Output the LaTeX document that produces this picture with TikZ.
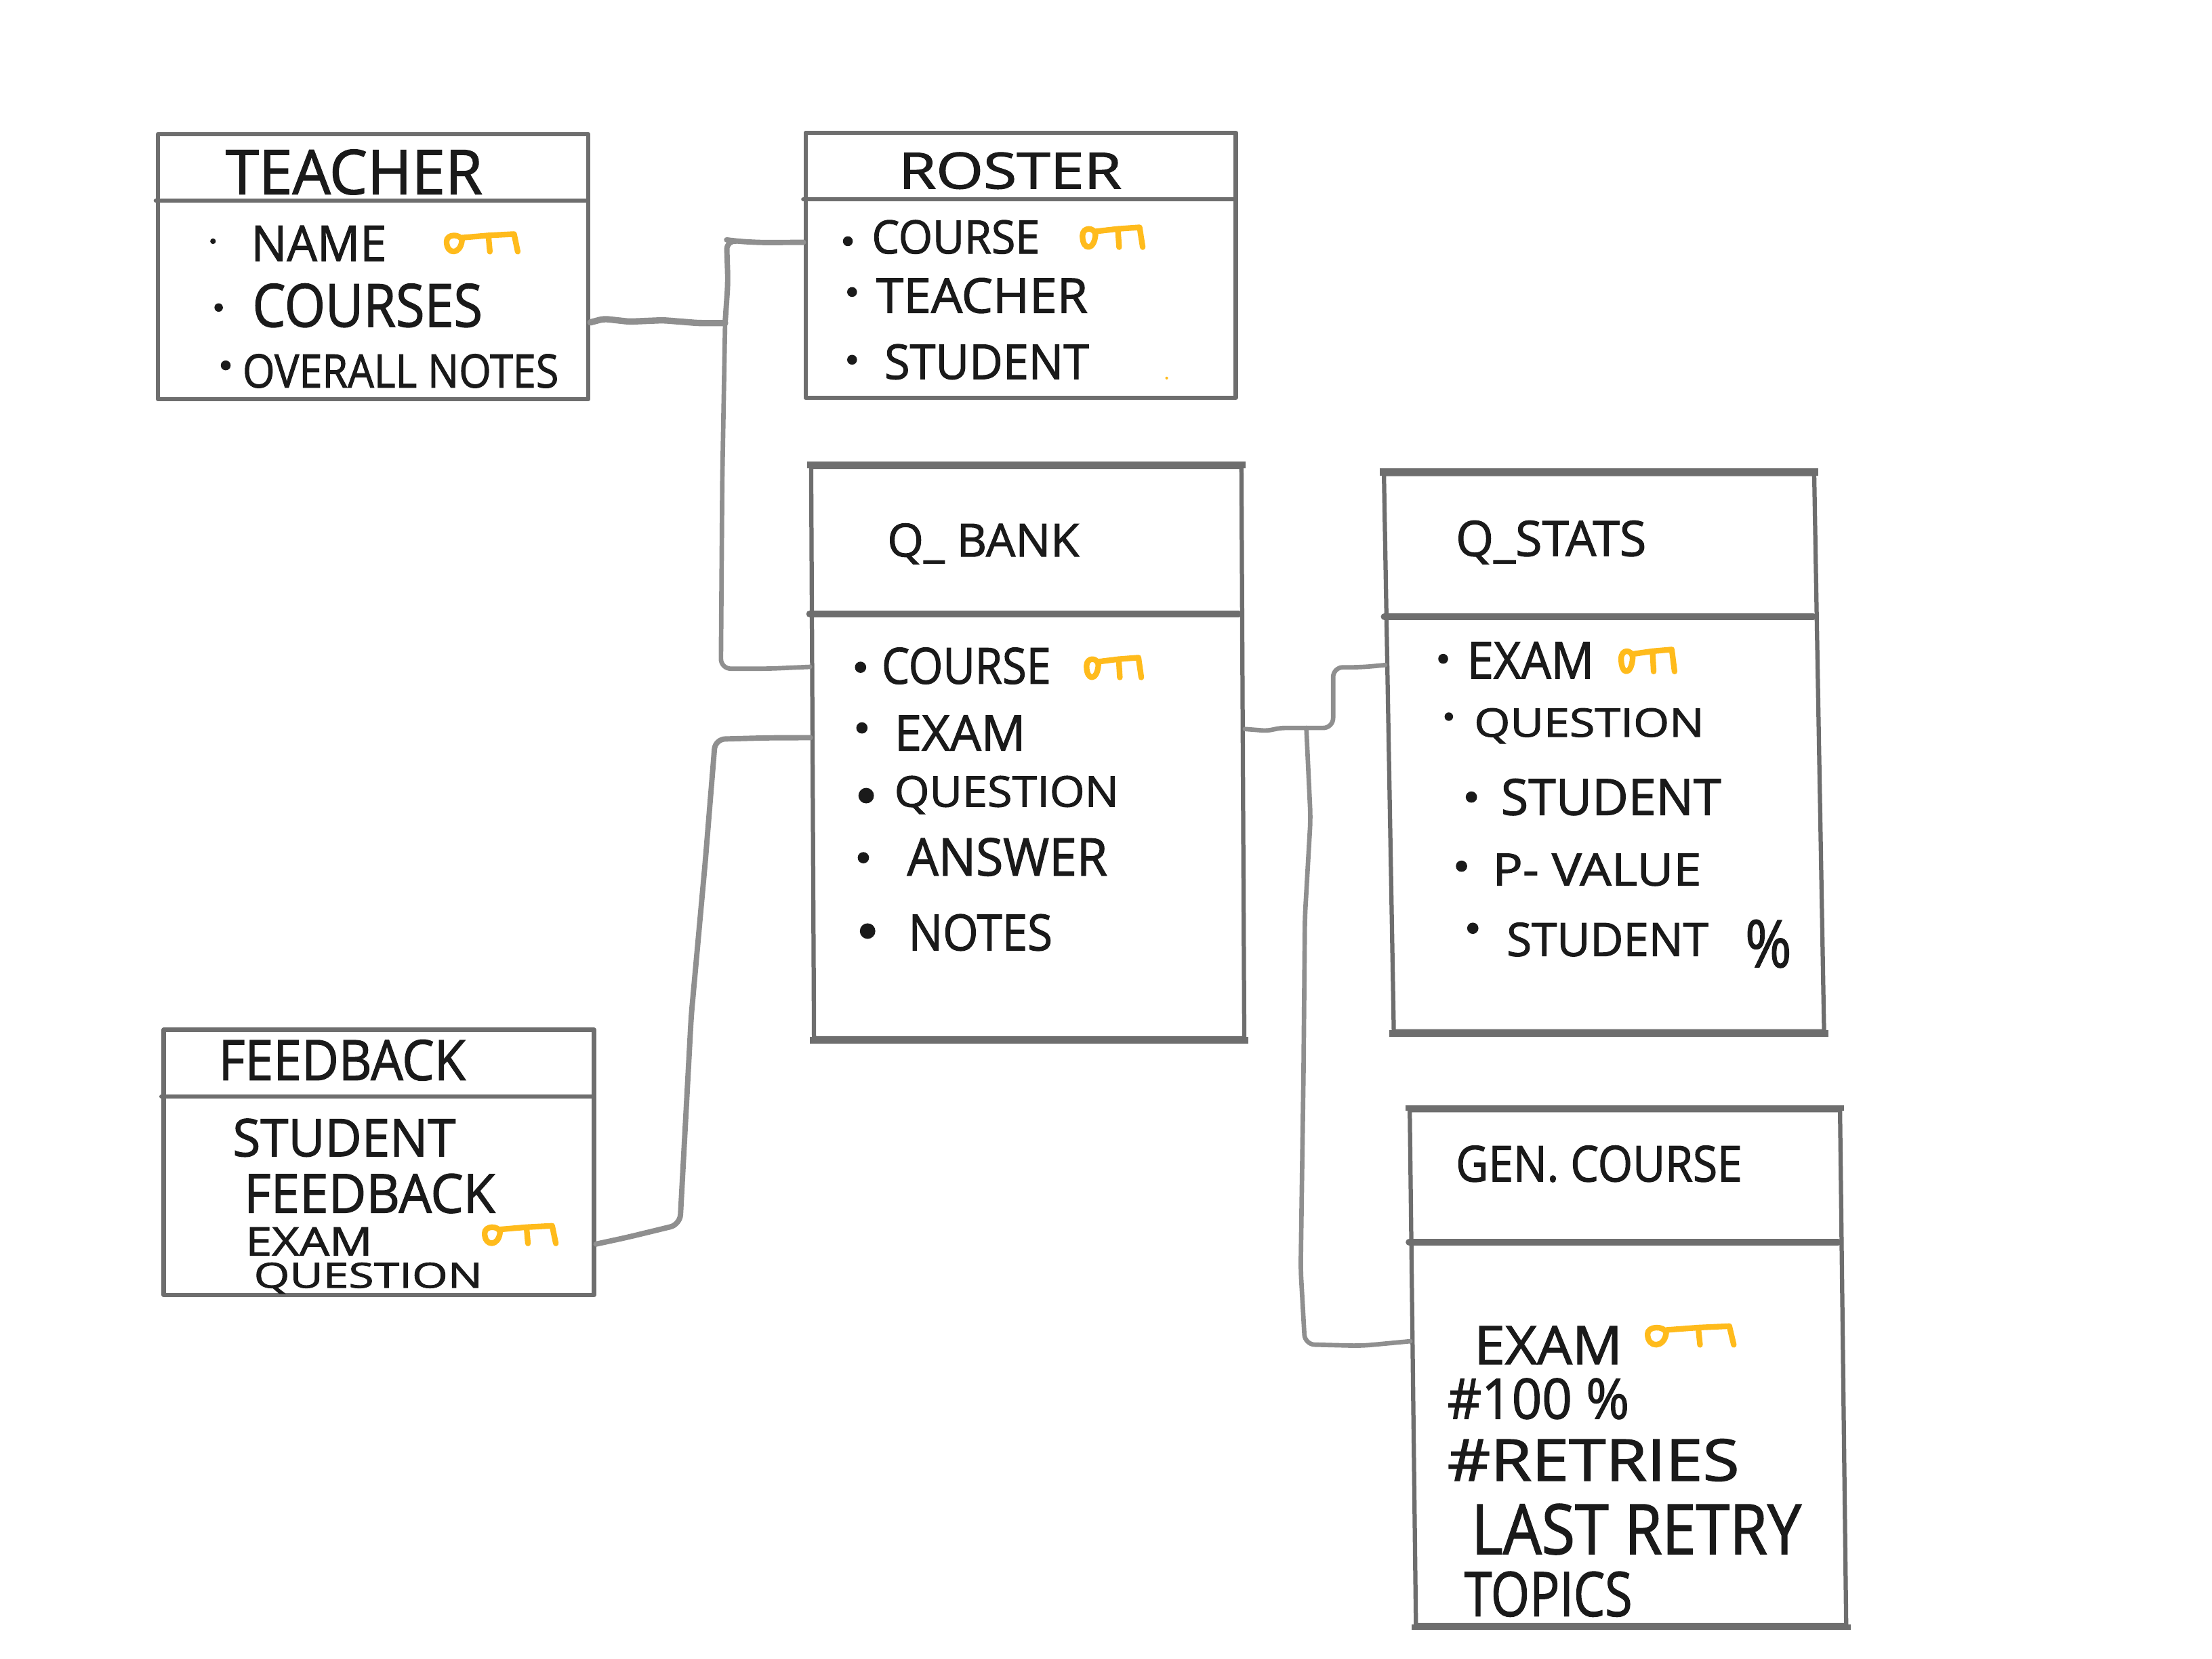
\documentclass[tikz,border=0pt]{standalone}
\usepackage{graphicx}
\usepackage{fontspec}
\setmainfont{Open Sans}[FakeBold=1.6]
\usetikzlibrary{calc}
\newlength\pxu
\setlength\pxu{0.02cm}
\definecolor{boxgray}{HTML}{6E6E6E}
\definecolor{wiregray}{HTML}{8F8F8F}
\definecolor{inkblack}{HTML}{1A1A1A}
\definecolor{keygold}{HTML}{FFBB1C}
\tikzset{
  erbox/.style={draw=boxgray,line width=3\pxu,rectangle,fill=white,inner sep=0pt,line join=round},
  divider/.style={draw=boxgray,line width=3.2\pxu,line cap=round,shorten >=3\pxu},
  heavydivider/.style={draw=boxgray,line width=5\pxu,line cap=round,shorten >=4\pxu},
  heavyline/.style={draw=boxgray,line width=5\pxu,line cap=butt,shorten <=-1.5\pxu,shorten >=-1.5\pxu},
  wire/.style={draw=wiregray,line width=3.8\pxu,line cap=round,line join=round,rounded corners=7\pxu},
  thinwire/.style={wire,line width=3.2\pxu},
  lbl/.style={anchor=south west,inner sep=0pt,outer sep=0pt,text=inkblack,font=\fontsize{20}{24}\selectfont},
  dotmark/.style={fill=inkblack},
  keyicon/.pic={
    \draw[draw=keygold,line width=4\pxu,line cap=round,line join=round]
      (0.03,0.45) .. controls (0.03,0.1) and (0.22,0.1) .. (0.24,0.4)
      .. controls (0.22,1.05) and (0.03,1.05) .. (0.03,0.45)
      (0.24,0.28) -- (0.6,0.18) -- (0.95,0.12) -- (1,0.9)
      (0.6,0.18) -- (0.62,0.9);
  }
}
\newcommand\lab[6]{\node[lbl] (#1) at (#2,#3) {\resizebox*{#4\pxu}{#5\pxu}{#6}};}
\begin{document}
\begin{tikzpicture}[x=0.02cm,y=-0.02cm]
\useasboundingbox (0,0) rectangle (1568,1176);
\fill[white] (0,0) rectangle (1568,1176);

% boxes
\node[erbox,minimum width=305\pxu,minimum height=188\pxu] (teacher) at (264.5,189) {};
\node[erbox,minimum width=305\pxu,minimum height=188\pxu] (roster) at (723.5,188) {};
\node[erbox,minimum width=305\pxu,minimum height=405\pxu,xslant=-0.005] (qbank) at (728.5,533.5) {};
\node[erbox,minimum width=305\pxu,minimum height=395\pxu,xslant=-0.0177] (qstats) at (1137,533.5) {};
\node[erbox,minimum width=305\pxu,minimum height=188\pxu] (feedback) at (268.5,824) {};
\node[erbox,minimum width=305\pxu,minimum height=365\pxu,xslant=-0.012] (gencourse) at (1154,969.5) {};

% dividers
\draw[divider] ($(teacher.north west)!0.255!(teacher.south west)$) -- ($(teacher.north east)!0.255!(teacher.south east)$);
\draw[divider] ($(roster.north west)!0.255!(roster.south west)$) -- ($(roster.north east)!0.255!(roster.south east)$);
\draw[divider] ($(feedback.north west)!0.255!(feedback.south west)$) -- ($(feedback.north east)!0.255!(feedback.south east)$);
\draw[heavydivider] ($(qbank.north west)!0.259!(qbank.south west)$) -- ($(qbank.north east)!0.259!(qbank.south east)$);
\draw[heavydivider] ($(qstats.north west)!0.258!(qstats.south west)$) -- ($(qstats.north east)!0.258!(qstats.south east)$);
\draw[heavydivider] ($(gencourse.north west)!0.258!(gencourse.south west)$) -- ($(gencourse.north east)!0.258!(gencourse.south east)$);
\draw[heavyline] (qbank.north west) -- (qbank.north east);
\draw[heavyline] (qbank.south west) -- (qbank.south east);
\draw[heavyline] (qstats.north west) -- (qstats.north east);
\draw[heavyline] (qstats.south west) -- (qstats.south east);
\draw[heavyline,line width=4\pxu] (gencourse.north west) -- (gencourse.north east);
\draw[heavyline,line width=4\pxu] (gencourse.south west) -- (gencourse.south east);

% connectors
\coordinate (jteacher) at (514,229);
\coordinate (jqbank) at (926,516);
\draw[wire,line width=4.5\pxu,rounded corners=3\pxu] ($(teacher.north east)!0.707!(teacher.south east)$) -- (428,226) -- (446,228) -- (470,227) -- (495,229) -- (jteacher);
\draw[wire] (jteacher) -- (516,200) -- (515,170) -- (522,171) -- (540,172) -- ($(roster.north west)!0.415!(roster.south west)$);
\draw[thinwire] (jteacher) -- (512,340) -- (511,474) -- (545,474) -- ($(qbank.north west)!0.351!(qbank.south west)$);
\draw[wire] ($(feedback.north east)!0.803!(feedback.south east)$) -- (445,877) -- (482,868) -- (490,720) -- (500,610) -- (507,524) -- (545,523) -- ($(qbank.north west)!0.474!(qbank.south west)$);
\draw[thinwire,rounded corners=3\pxu] ($(qbank.north east)!0.459!(qbank.south east)$) -- (898,518) -- (908,516) -- (jqbank);
\draw[thinwire] (jqbank) -- (945,516) -- (945,473) -- (965,473) -- ($(qstats.north west)!0.344!(qstats.south west)$);
\draw[thinwire] (jqbank) -- (929,580) -- (925,650) -- (924,760) -- (922,900) -- (925,953) -- (965,954) -- ($(gencourse.north west)!0.449!(gencourse.south west)$);

% TEACHER
\lab{tTitle}{160}{138}{182}{32}{TEACHER}
\lab{tName}{178}{185}{96}{25}{NAME}
\lab{tCourses}{179}{232}{163}{31}{COURSES}
\lab{tNotes}{172}{275}{224}{24}{OVERALL NOTES}
\fill[dotmark] (151,171) circle (2);
\fill[dotmark] (155,218) circle (3);
\fill[dotmark] (160,259) circle (3.5);
\pic[xscale=52,yscale=16] at (315,164) {keyicon};

% ROSTER
\lab{rTitle}{637}{134}{158}{26}{ROSTER}
\lab{rCourse}{618}{180}{119}{24}{COURSE}
\lab{rTeacher}{621}{222}{150}{25}{TEACHER}
\lab{rStudent}{627}{269}{145}{25}{STUDENT}
\fill[dotmark] (601,171) circle (3.5);
\fill[dotmark] (604,207) circle (3.5);
\fill[dotmark] (604,255) circle (3.5);
\pic[xscale=44,yscale=18] at (766,159) {keyicon};
\fill[keygold] (827,268) circle (1);

% Q_BANK
\lab{qbTitle}{629}{400}{136}{29}{Q\_ BANK}
\lab{qbCourse}{625}{485}{120}{26}{COURSE}
\lab{qbExam}{634}{532}{93}{25}{EXAM}
\lab{qbQuestion}{634}{577}{159}{27}{QUESTION}
\lab{qbAnswer}{643}{621}{142}{27}{ANSWER}
\lab{qbNotes}{644}{674}{102}{26}{NOTES}
\fill[dotmark] (610,473) circle (4);
\fill[dotmark] (611,516) circle (4);
\fill[dotmark] (614,564) circle (5.5);
\fill[dotmark] (612,608) circle (4);
\fill[dotmark] (615,660) circle (5.5);
\pic[xscale=40,yscale=18] at (769,464) {keyicon};

% Q_STATS
\lab{qsTitle}{1032}{400}{135}{31}{Q\_STATS}
\lab{qsExam}{1040}{481}{90}{26}{EXAM}
\lab{qsQuestion}{1045}{527}{163}{25}{QUESTION}
\lab{qsStudent}{1064}{578}{156}{26}{STUDENT}
\lab{qsPvalue}{1058}{628}{148}{23}{P- VALUE}
\lab{qsStudentB}{1068}{678}{143}{24}{STUDENT}
\lab{qsPct}{1237}{686}{33}{34}{\%}
\fill[dotmark] (1023,467) circle (3.5);
\fill[dotmark] (1027,508) circle (3);
\fill[dotmark] (1043,565) circle (4);
\fill[dotmark] (1036,614) circle (4);
\fill[dotmark] (1044,658) circle (4);
\pic[xscale=39,yscale=20] at (1148,458) {keyicon};

% FEEDBACK
\lab{fTitle}{155}{766}{175}{29}{FEEDBACK}
\lab{fStudent}{165}{820}{158}{27}{STUDENT}
\lab{fFeedback}{173}{860}{178}{28}{FEEDBACK}
\lab{fExam}{174}{890}{90}{20}{EXAM}
\lab{fQuestion}{180}{917}{162}{22}{QUESTION}
\pic[xscale=52,yscale=16] at (342,867) {keyicon};

% GEN. COURSE
\lab{gTitle}{1032}{838}{203}{26}{GEN. COURSE}
\lab{gExam}{1045}{967}{105}{27}{EXAM}
\lab{gHundred}{1026}{1006}{129}{29}{\#100 \%}
\lab{gRetries}{1026}{1050}{207}{30}{\#RETRIES}
\lab{gLast}{1043}{1102}{234}{36}{LAST RETRY}
\lab{gTopics}{1038}{1146}{119}{32}{TOPICS}
\pic[xscale=63,yscale=17] at (1166,938) {keyicon};
\end{tikzpicture}
\end{document}
